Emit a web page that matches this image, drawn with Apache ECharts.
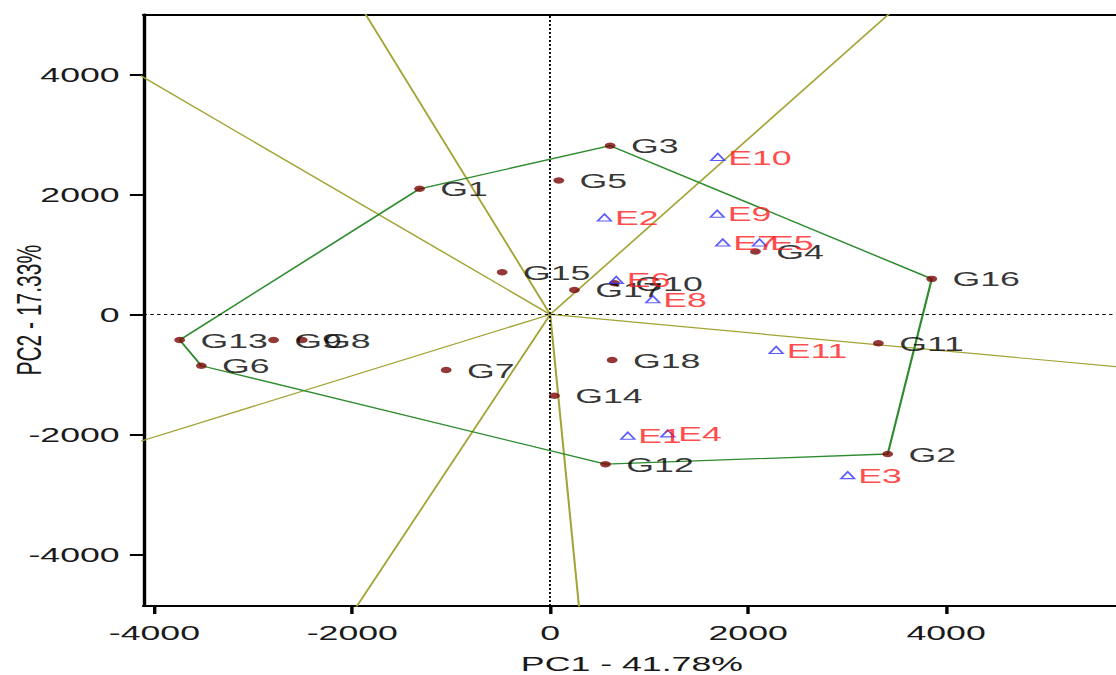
<!DOCTYPE html>
<html><head><meta charset="utf-8">
<script src="https://cdn.jsdelivr.net/npm/echarts@6/dist/echarts.min.js"></script>
<style>
html,body{margin:0;padding:0;background:#fff;overflow:hidden;width:1116px;height:675px;}
#wrap{position:absolute;left:0;top:0;width:659.4px;height:675px;transform:scaleX(1.7);transform-origin:0 0;}
</style></head><body><div id="wrap"></div>
<script>
// Genotype scores (PC1, PC2)
const genotypeNames = ['G1','G2','G3','G4','G5','G6','G7','G8','G9','G10','G11','G12','G13','G14','G15','G16','G17','G18'];
const genotypeX = [-1320, 3410, 606, 2074, 87, -3525, -1051, -2505, -2795, 650, 3316, 559, -3744, 43, -485, 3855, 245, 626];
const genotypeY = [2095, -2326, 2813, 1048, 2234, -855, -927, -426, -426, 521, -481, -2496, -426, -1356, 705, 593, 409, -760];
// Environment scores
const envNames = ['E1','E2','E3','E4','E5','E6','E7','E8','E9','E10','E11'];
const envX = [784, 548, 3006, 1188, 2114, 667, 1743, 1036, 1687, 1693, 2283];
const envY = [-2023, 1616, -2679, -1983, 1199, 576, 1199, 254, 1678, 2624, -593];
// Polygon (convex hull) vertex order
const hullOrder = ['G13','G1','G3','G16','G2','G12','G6','G13'];
// Rays from origin (end points, beyond the frame)
const rayEndX = [-1939, -4300, 3553, 6000, 304, -2049, -4300];
const rayEndY = [5200, 4134, 5200, -915, -5100, -5100, -2195];
// Tick labels
const xTicks = [-4000, -2000, 0, 2000, 4000];
const yTicks = [-4000, -2000, 0, 2000, 4000];

const FONT = 'Liberation Sans, Arial, sans-serif';
const chart = echarts.init(document.getElementById('wrap'), null, {renderer: 'svg'});

const gData = genotypeNames.map((n, i) => ({name: n, value: [genotypeX[i], genotypeY[i]]}));
const eData = envNames.map((n, i) => ({name: n, value: [envX[i], envY[i]]}));
const hullData = hullOrder.map(n => { const i = genotypeNames.indexOf(n); return [genotypeX[i], genotypeY[i]]; });

const series = [];
rayEndX.forEach((x, i) => {
  series.push({
    type: 'line', data: [[0, 0], [x, rayEndY[i]]], symbol: 'none', clip: true, silent: true, z: 1,
    lineStyle: {color: '#a3a336', width: 1.2}, animation: false
  });
});
series.push({
  type: 'line', data: hullData, symbol: 'none', clip: true, silent: true, z: 2,
  lineStyle: {color: '#2e8b2e', width: 1.3}, animation: false,
  markLine: {
    silent: true, symbol: 'none', label: {show: false}, animation: false,
    lineStyle: {type: [2, 2], color: '#000', width: 1.1},
    data: [{xAxis: 0}, {yAxis: 0}]
  }
});
series.push({
  type: 'scatter', data: gData, symbol: 'circle', symbolSize: 6.4, z: 3, animation: false,
  itemStyle: {color: '#780505'},
  label: {show: true, position: 'right', distance: 9, formatter: '{b}', color: '#000', fontSize: 21, fontFamily: FONT}
});
series.push({
  type: 'scatter', data: eData, symbol: 'triangle', symbolSize: [8, 7], z: 4, animation: false,
  itemStyle: {color: 'rgba(0,0,0,0)', borderColor: '#3535ff', borderWidth: 1.2},
  label: {show: true, position: 'right', distance: 1.5, formatter: '{b}', color: '#ff1a1a', fontSize: 21, fontFamily: FONT}
});

const axisCommon = {
  type: 'value', splitLine: {show: false},
  axisLine: {show: true, onZero: false, lineStyle: {color: '#000', width: 2}},
};
const plainNum = v => String(v);

chart.setOption({
  backgroundColor: '#fff',
  animation: false,
  grid: {left: 84.4, right: 0, top: 14.5, bottom: 69, containLabel: false, outerBoundsMode: 'none'},
  xAxis: [
    Object.assign({}, axisCommon, {
      min: -4110, max: 5760, position: 'bottom',
      axisTick: {show: true, length: 8, lineStyle: {color: '#000', width: 2}, customValues: xTicks},
      axisLabel: {show: true, customValues: xTicks, formatter: plainNum, fontSize: 21, color: '#1a1a1a', fontFamily: FONT, margin: 16},
      name: 'PC1 - 41.78%', nameLocation: 'middle', nameGap: 57, nameMoveOverlap: false,
      nameTextStyle: {fontSize: 21, lineHeight: 20, color: '#1a1a1a', fontFamily: FONT, verticalAlign: 'middle'}
    }),
    Object.assign({}, axisCommon, {
      min: -4110, max: 5760, position: 'top',
      axisTick: {show: false}, axisLabel: {show: false}
    })
  ],
  yAxis: [
    Object.assign({}, axisCommon, {
      min: -4860, max: 5000, position: 'left',
      axisTick: {show: true, length: 8, lineStyle: {color: '#000', width: 2}, customValues: yTicks},
      axisLabel: {show: true, customValues: yTicks, formatter: plainNum, fontSize: 21, color: '#1a1a1a', fontFamily: FONT, margin: 14},
      name: 'PC2 - 17.33%', nameLocation: 'middle', nameGap: 68, nameRotate: 90, nameMoveOverlap: false,
      nameTextStyle: {fontSize: 21, lineHeight: 20, color: '#1a1a1a', fontFamily: FONT, verticalAlign: 'middle'}
    })
  ],
  series: series
});
</script></body></html>
